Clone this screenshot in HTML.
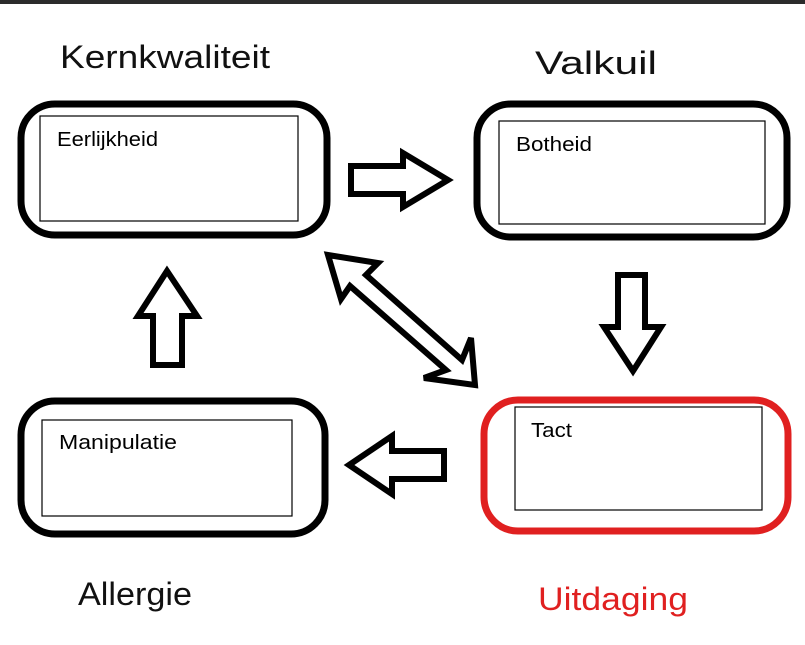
<!DOCTYPE html>
<html><head><style>
body{margin:0;width:805px;height:645px;background:#fff;overflow:hidden}
svg{display:block}
.h{font-family:"Liberation Sans",sans-serif;font-size:32px}
.t{font-family:"Liberation Sans",sans-serif;font-size:20px}
</style></head><body>
<svg width="805" height="645" viewBox="0 0 805 645">
<rect x="0" y="0" width="805" height="4" fill="#2b2b2b"/>
<text class="h" x="60" y="68" fill="#111" textLength="210" lengthAdjust="spacingAndGlyphs">Kernkwaliteit</text>
<text class="h" x="535" y="74" fill="#111" textLength="122" lengthAdjust="spacingAndGlyphs">Valkuil</text>
<text class="h" x="78" y="605" fill="#111" textLength="114" lengthAdjust="spacingAndGlyphs">Allergie</text>
<text class="h" x="538" y="610" fill="#e02020" textLength="150" lengthAdjust="spacingAndGlyphs">Uitdaging</text>

<rect x="21" y="104" width="306" height="131" rx="34" fill="none" stroke="#000" stroke-width="7"/>
<rect x="40" y="116" width="258" height="105" fill="none" stroke="#000" stroke-width="1.2"/>
<text class="t" x="57" y="146" textLength="101" lengthAdjust="spacingAndGlyphs">Eerlijkheid</text>

<rect x="477" y="104" width="310" height="133" rx="34" fill="none" stroke="#000" stroke-width="7"/>
<rect x="499" y="121" width="266" height="103" fill="none" stroke="#000" stroke-width="1.2"/>
<text class="t" x="516" y="151" textLength="76" lengthAdjust="spacingAndGlyphs">Botheid</text>

<rect x="21" y="401" width="304" height="133" rx="34" fill="none" stroke="#000" stroke-width="7"/>
<rect x="42" y="420" width="250" height="96" fill="none" stroke="#000" stroke-width="1.2"/>
<text class="t" x="59" y="449" textLength="118" lengthAdjust="spacingAndGlyphs">Manipulatie</text>

<rect x="484" y="400" width="304" height="131" rx="34" fill="none" stroke="#e02020" stroke-width="7"/>
<rect x="515" y="407" width="247" height="103" fill="none" stroke="#000" stroke-width="1.2"/>
<text class="t" x="531" y="437" textLength="41" lengthAdjust="spacingAndGlyphs">Tact</text>

<g fill="#fff" stroke="#000" stroke-width="6" stroke-linejoin="miter">
<polygon points="351,166 403,166 403,153 448,180 403,207 403,194 351,194"/>
<polygon points="618,275 645,275 645,327 661,327 633,371 604,327 618,327"/>
<polygon points="444,451 444,479 392,479 392,494 349,465 392,436 392,451"/>
<polygon points="153,365 182,365 182,316 197,316 167,271 138,316 153,316"/>
<polygon points="328,255 378,263 366,275 462,360 471,338 475,385 424,378 446,370 350,286 341,299"/>
</g>
</svg>
</body></html>
